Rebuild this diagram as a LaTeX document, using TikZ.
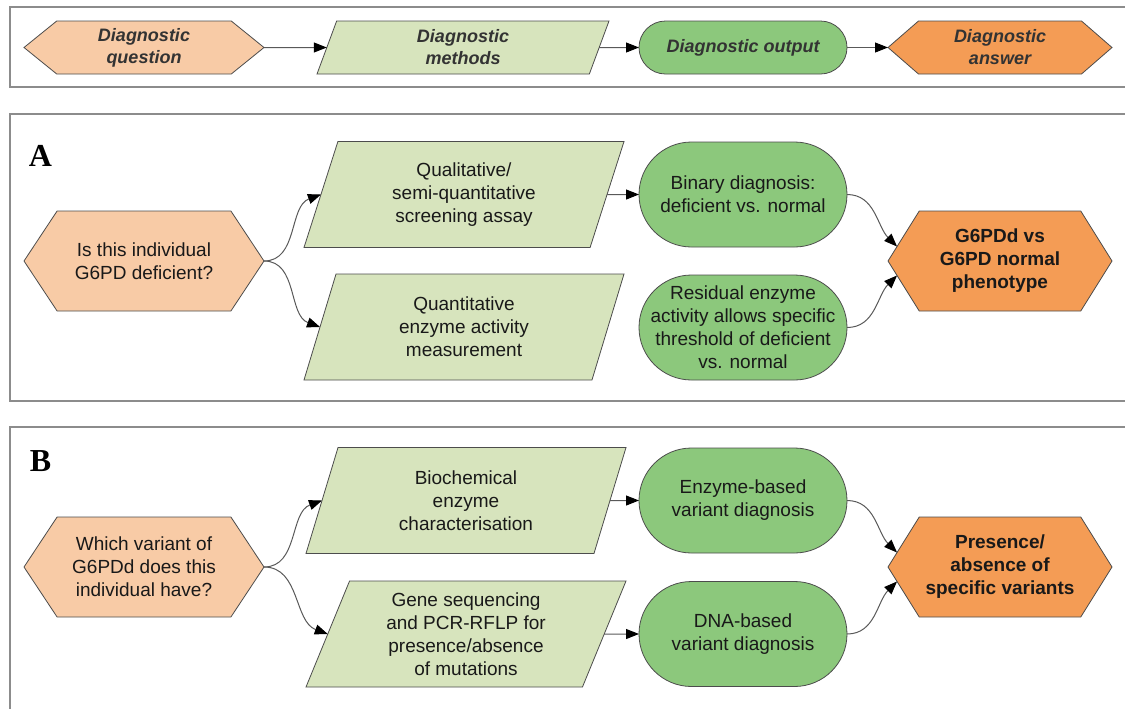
\documentclass[tikz,border=0pt]{standalone}
\usepackage{fontspec}
\setmainfont{Liberation Sans}
\newfontfamily\labelfont{Liberation Serif}
\usetikzlibrary{shapes,arrows.meta,positioning}
\definecolor{qfill}{HTML}{F8CBA6}
\definecolor{mfill}{HTML}{D7E4BD}
\definecolor{ofill}{HTML}{8CC87C}
\definecolor{afill}{HTML}{F49C55}

\begin{document}
\begin{tikzpicture}[x=0.5pt, y=-0.5pt,
  panel/.style={draw=gray!90, line width=1pt},
  question/.style={signal, signal to=west and east, signal pointer angle=113,
                   draw=black!70, fill=qfill, align=center, inner sep=1pt, outer sep=0pt,
                   minimum width=120pt, minimum height=50pt,
                   font=\fontsize{9.5}{11.5}\selectfont, text=black!90},
  answer/.style={question, fill=afill, minimum width=112pt,
                 signal pointer angle=116, font=\fontsize{9.5}{11.5}\selectfont\bfseries},
  method/.style={trapezium, trapezium left angle=63.4, trapezium right angle=116.6,
                 trapezium stretches body, draw=black!70, fill=mfill, align=center,
                 inner sep=1pt, outer sep=0pt, minimum width=160pt, minimum height=53pt,
                 font=\fontsize{9.5}{11.5}\selectfont, text=black!90},
  output/.style={rounded rectangle, draw=black!70, fill=ofill, align=center,
                 inner sep=1pt, outer sep=0pt, minimum width=106pt, minimum height=52.5pt,
                 font=\fontsize{9.5}{11.5}\selectfont, text=black!90},
  inside/.style={align=center, font=\fontsize{9.5}{11.5}\selectfont, text=black!90},
  legend/.style={minimum height=26.5pt, text=black!80,
                 font=\fontsize{9}{11}\selectfont\bfseries\itshape},
  tag/.style={font=\labelfont\fontsize{16}{18}\selectfont\bfseries},
  flow/.style={draw=black!65, line width=0.5pt,
               -{Triangle[length=6.5pt, width=5pt, color=black, fill=black]}},
]
  \useasboundingbox (0,0) rectangle (1125,708);
  \clip (0,0) rectangle (1125,708);

  % Frames
  \draw[panel] (10,7) rectangle (1140,87);
  \draw[panel] (10,114) rectangle (1140,401);
  \draw[panel] (10,427) rectangle (1140,730);

  % Legend
  \node[question, legend, signal pointer angle=78] (qL) at (144,47.5)
       {Diagnostic\\question};
  \node[method, legend, minimum width=146pt] (mL) at (463,47.5)
       {Diagnostic\\methods};
  \node[output, legend] (oL) at (743,47.5) {Diagnostic output};
  \node[answer, legend, signal pointer angle=82] (aL) at (1000,47.5)
       {Diagnostic\\answer};
  \draw[flow] (qL.east) -- (mL.west);
  \draw[flow] (mL.east) -- (oL.west);
  \draw[flow] (oL.east) -- (aL.west);

  % Panel A
  \node[tag] (labA) at (40.5,156) {A};
  \node[question] (qA) at (144,261) {Is this individual\\G6PD deficient?};
  \node[method] (mA1) at (464,194.5)
       {Qualitative/\\semi-quantitative\\screening assay};
  \node[method] (mA2) at (464,327)
       {Quantitative\\enzyme activity\\measurement};
  \node[output] (oA1) at (743,194.5) {Binary diagnosis:\\deficient vs. normal};
  \node[output, label={[inside]center:Residual enzyme\\activity allows specific\\threshold of deficient\\vs. normal}]
       (oA2) at (743,327.5) {};
  \node[answer] (aA) at (1000,261) {G6PDd vs\\G6PD normal\\phenotype};
  \draw[flow] (qA.east) to[out=0, in=200] (mA1.west);
  \draw[flow] (qA.east) to[out=0, in=160] (mA2.west);
  \draw[flow] (mA1.east) -- (oA1.west);
  \draw[flow] (oA1.east) to[out=0, in=135] (aA.172);
  \draw[flow] (oA2.east) to[out=0, in=225] (aA.188);

  % Panel B
  \node[tag] (labB) at (40.5,461) {B};
  \node[question] (qB) at (144,567) {Which variant of\\G6PDd does this\\individual have?};
  \node[method] (mB1) at (466,500.5)
       {Biochemical\\enzyme\\characterisation};
  \node[method] (mB2) at (466,634)
       {Gene sequencing\\and PCR-RFLP for\\presence/absence\\of mutations};
  \node[output] (oB1) at (743,500.5) {Enzyme-based\\variant diagnosis};
  \node[output] (oB2) at (743,634) {DNA-based\\variant diagnosis};
  \node[answer] (aB) at (1000,567) {Presence/\\absence of\\specific variants};
  \draw[flow] (qB.east) to[out=0, in=200] (mB1.west);
  \draw[flow] (qB.east) to[out=0, in=160] (mB2.west);
  \draw[flow] (mB1.east) -- (oB1.west);
  \draw[flow] (mB2.east) -- (oB2.west);
  \draw[flow] (oB1.east) to[out=0, in=135] (aB.172);
  \draw[flow] (oB2.east) to[out=0, in=225] (aB.188);

\end{tikzpicture}
\end{document}
